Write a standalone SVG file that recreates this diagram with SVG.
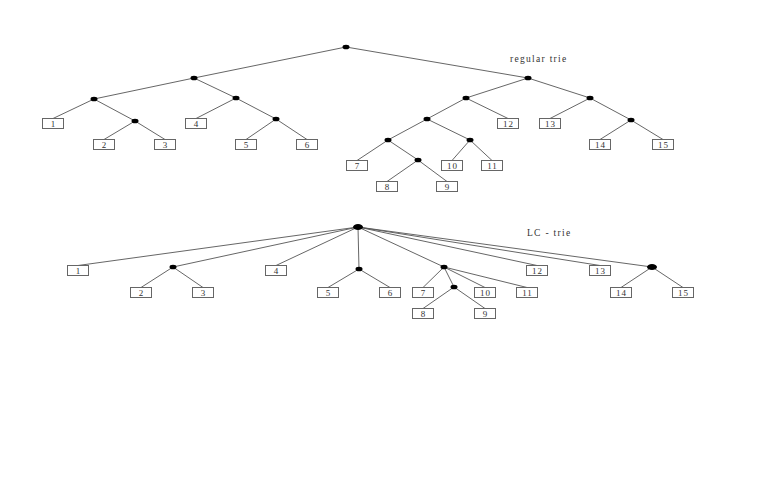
<svg xmlns="http://www.w3.org/2000/svg" width="761" height="498" viewBox="0 0 761 498">
<style>
.e{stroke:#555;stroke-width:0.9;fill:none}
.n{fill:#000}
.b{fill:#fff;stroke:#666;stroke-width:1}
.t{font-family:"Liberation Serif",serif;font-size:9px;fill:#333;text-anchor:middle;letter-spacing:0.8px}
.lab{font-family:"Liberation Serif",serif;font-size:9.5px;fill:#333;letter-spacing:1.3px}
</style>
<rect width="761" height="498" fill="#fff"/>
<g id="connectors">
<path class="e" d="M346,47L194,78M346,47L528,78M194,78L94,99M194,78L236,98M94,99L53,118.5M94,99L135,121M135,121L104,139.5M135,121L165,139.5M236,98L196,118.5M236,98L276,119M276,119L246,139.5M276,119L307,139.5M528,78L466,98M528,78L590,98M466,98L427,119M466,98L508,118.5M427,119L388,140M427,119L470,140M388,140L357,160.5M388,140L418,160M418,160L387,181.5M418,160L447,181.5M470,140L452,160.5M470,140L492,160.5M590,98L550,118.5M590,98L631,120M631,120L600,139.5M631,120L663,139.5"/>
<path class="e" d="M358,227L78,265.5M358,227L173,267M358,227L276,265.5M358,227L359,269M358,227L444,267M358,227L537,265.5M358,227L600,265.5M358,227L652,267M173,267L141,287.5M173,267L203,287.5M359,269L328,287.5M359,269L390,287.5M444,267L423,287.5M444,267L454,287M444,267L485,287.5M444,267L527,287.5M454,287L423,308.5M454,287L485,308.5M652,267L621,287.5M652,267L683,287.5"/>
</g>
<g id="top-nodes">
<ellipse class="n" cx="346" cy="47" rx="3.5" ry="2.3"/>
<ellipse class="n" cx="194" cy="78" rx="3.5" ry="2.3"/>
<ellipse class="n" cx="528" cy="78" rx="3.5" ry="2.3"/>
<ellipse class="n" cx="94" cy="99" rx="3.5" ry="2.3"/>
<ellipse class="n" cx="236" cy="98" rx="3.5" ry="2.3"/>
<ellipse class="n" cx="135" cy="121" rx="3.5" ry="2.3"/>
<ellipse class="n" cx="276" cy="119" rx="3.5" ry="2.3"/>
<ellipse class="n" cx="466" cy="98" rx="3.5" ry="2.3"/>
<ellipse class="n" cx="590" cy="98" rx="3.5" ry="2.3"/>
<ellipse class="n" cx="427" cy="119" rx="3.5" ry="2.3"/>
<ellipse class="n" cx="388" cy="140" rx="3.5" ry="2.3"/>
<ellipse class="n" cx="470" cy="140" rx="3.5" ry="2.3"/>
<ellipse class="n" cx="418" cy="160" rx="3.5" ry="2.3"/>
<ellipse class="n" cx="631" cy="120" rx="3.5" ry="2.3"/>
</g>
<g id="t1"><rect class="b" x="42.5" y="118.5" width="21" height="10"/><text class="t" x="53.4" y="127">1</text></g>
<g id="t2"><rect class="b" x="93.5" y="139.5" width="21" height="10"/><text class="t" x="104.4" y="148">2</text></g>
<g id="t3"><rect class="b" x="154.5" y="139.5" width="21" height="10"/><text class="t" x="165.4" y="148">3</text></g>
<g id="t4"><rect class="b" x="185.5" y="118.5" width="21" height="10"/><text class="t" x="196.4" y="127">4</text></g>
<g id="t5"><rect class="b" x="235.5" y="139.5" width="21" height="10"/><text class="t" x="246.4" y="148">5</text></g>
<g id="t6"><rect class="b" x="296.5" y="139.5" width="21" height="10"/><text class="t" x="307.4" y="148">6</text></g>
<g id="t7"><rect class="b" x="346.5" y="160.5" width="21" height="10"/><text class="t" x="357.4" y="169">7</text></g>
<g id="t8"><rect class="b" x="376.5" y="181.5" width="21" height="10"/><text class="t" x="387.4" y="190">8</text></g>
<g id="t9"><rect class="b" x="436.5" y="181.5" width="21" height="10"/><text class="t" x="447.4" y="190">9</text></g>
<g id="t10"><rect class="b" x="441.5" y="160.5" width="21" height="10"/><text class="t" x="452.4" y="169">10</text></g>
<g id="t11"><rect class="b" x="481.5" y="160.5" width="21" height="10"/><text class="t" x="492.4" y="169">11</text></g>
<g id="t12"><rect class="b" x="497.5" y="118.5" width="21" height="10"/><text class="t" x="508.4" y="127">12</text></g>
<g id="t13"><rect class="b" x="539.5" y="118.5" width="21" height="10"/><text class="t" x="550.4" y="127">13</text></g>
<g id="t14"><rect class="b" x="589.5" y="139.5" width="21" height="10"/><text class="t" x="600.4" y="148">14</text></g>
<g id="t15"><rect class="b" x="652.5" y="139.5" width="21" height="10"/><text class="t" x="663.4" y="148">15</text></g>
<text class="lab" x="510" y="62">regular trie</text>
<g id="lc-nodes">
<ellipse class="n" cx="358" cy="227" rx="5" ry="3"/>
<ellipse class="n" cx="173" cy="267" rx="3.5" ry="2.3"/>
<ellipse class="n" cx="359" cy="269" rx="3.5" ry="2.3"/>
<ellipse class="n" cx="444" cy="267" rx="3.5" ry="2.3"/>
<ellipse class="n" cx="454" cy="287" rx="3.5" ry="2.3"/>
<ellipse class="n" cx="652" cy="267" rx="5" ry="3"/>
</g>
<g id="l1"><rect class="b" x="67.5" y="265.5" width="21" height="10"/><text class="t" x="78.4" y="274">1</text></g>
<g id="l2"><rect class="b" x="130.5" y="287.5" width="21" height="10"/><text class="t" x="141.4" y="296">2</text></g>
<g id="l3"><rect class="b" x="192.5" y="287.5" width="21" height="10"/><text class="t" x="203.4" y="296">3</text></g>
<g id="l4"><rect class="b" x="265.5" y="265.5" width="21" height="10"/><text class="t" x="276.4" y="274">4</text></g>
<g id="l5"><rect class="b" x="317.5" y="287.5" width="21" height="10"/><text class="t" x="328.4" y="296">5</text></g>
<g id="l6"><rect class="b" x="379.5" y="287.5" width="21" height="10"/><text class="t" x="390.4" y="296">6</text></g>
<g id="l7"><rect class="b" x="412.5" y="287.5" width="21" height="10"/><text class="t" x="423.4" y="296">7</text></g>
<g id="l8"><rect class="b" x="412.5" y="308.5" width="21" height="10"/><text class="t" x="423.4" y="317">8</text></g>
<g id="l9"><rect class="b" x="474.5" y="308.5" width="21" height="10"/><text class="t" x="485.4" y="317">9</text></g>
<g id="l10"><rect class="b" x="474.5" y="287.5" width="21" height="10"/><text class="t" x="485.4" y="296">10</text></g>
<g id="l11"><rect class="b" x="516.5" y="287.5" width="21" height="10"/><text class="t" x="527.4" y="296">11</text></g>
<g id="l12"><rect class="b" x="526.5" y="265.5" width="21" height="10"/><text class="t" x="537.4" y="274">12</text></g>
<g id="l13"><rect class="b" x="589.5" y="265.5" width="21" height="10"/><text class="t" x="600.4" y="274">13</text></g>
<g id="l14"><rect class="b" x="610.5" y="287.5" width="21" height="10"/><text class="t" x="621.4" y="296">14</text></g>
<g id="l15"><rect class="b" x="672.5" y="287.5" width="21" height="10"/><text class="t" x="683.4" y="296">15</text></g>
<text class="lab" x="527" y="236">LC - trie</text>
</svg>
